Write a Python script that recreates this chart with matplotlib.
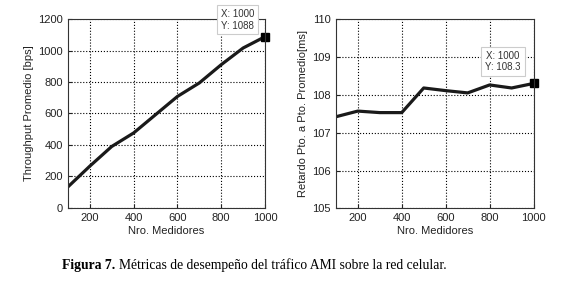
import matplotlib.pyplot as plt
import numpy as np

medidores = [100, 200, 300, 400, 500, 600, 700, 800, 900, 1000]
throughput = [133, 265, 390, 476, 592, 708, 794, 910, 1016, 1088]
retardo = [107.42, 107.57, 107.53, 107.53, 108.18, 108.11, 108.05, 108.26, 108.18, 108.3]

plt.rcParams['font.family'] = ['Liberation Sans', 'DejaVu Sans']

fig = plt.figure(figsize=(5.8, 2.84), dpi=100)

ax1 = fig.add_axes([0.117, 0.268, 0.340, 0.665])
ax2 = fig.add_axes([0.579, 0.266, 0.341, 0.667])


def style(ax):
    ax.set_xlim(100, 1000)
    ax.set_xticks([200, 400, 600, 800, 1000])
    ax.grid(True, color='black', linestyle=':', linewidth=0.8)
    ax.tick_params(labelsize=8, direction='in', length=3, colors='#222222')
    for s in ax.spines.values():
        s.set_linewidth(0.8)
        s.set_color('#333333')
    ax.set_xlabel('Nro. Medidores', fontsize=8, color='#222222', labelpad=2)


def datatip(ax, x, y, txt, off):
    ax.annotate(txt, (x, y), xytext=off, textcoords='offset points',
                ha='center', va='center', fontsize=7, color='#333333', linespacing=1.15,
                bbox=dict(boxstyle='square,pad=0.4', fc='white', ec='#cccccc', lw=0.8),
                annotation_clip=False)


# throughput
ax1.plot(medidores, throughput, color='#1a1a1a', linewidth=2.3)
ax1.plot(medidores[-1], throughput[-1], 's', color='black', markersize=6, clip_on=False)
style(ax1)
ax1.set_ylim(0, 1200)
ax1.set_yticks(np.arange(0, 1201, 200))
ax1.set_ylabel('Throughput Promedio [bps]', fontsize=8, color='#222222', labelpad=3)
datatip(ax1, medidores[-1], throughput[-1], 'X: 1000\nY: 1088', (-20, 12))

# retardo
ax2.plot(medidores, retardo, color='#1a1a1a', linewidth=2.3)
ax2.plot(medidores[-1], retardo[-1], 's', color='black', markersize=6, clip_on=False)
style(ax2)
ax2.set_ylim(105, 110)
ax2.set_yticks(np.arange(105, 111, 1))
ax2.set_ylabel('Retardo Pto. a Pto. Promedio[ms]', fontsize=8, color='#222222', labelpad=3)
datatip(ax2, medidores[-1], retardo[-1], 'X: 1000\nY: 108.3', (-22, 16))

# caption: bold part then regular part right after it
cap_y = 0.065
t1 = fig.text(62 / 580, cap_y, 'Figura 7.', fontsize=9.8, fontweight='bold',
              family=['Liberation Serif'], ha='left', va='center')
fig.canvas.draw()
bb = t1.get_window_extent()
fig.text(bb.x1 / fig.bbox.width + 0.006, cap_y,
         'Métricas de desempeño del tráfico AMI sobre la red celular.',
         fontsize=9.8, family=['Liberation Serif'], ha='left', va='center')

plt.savefig('out.png', dpi=100)
